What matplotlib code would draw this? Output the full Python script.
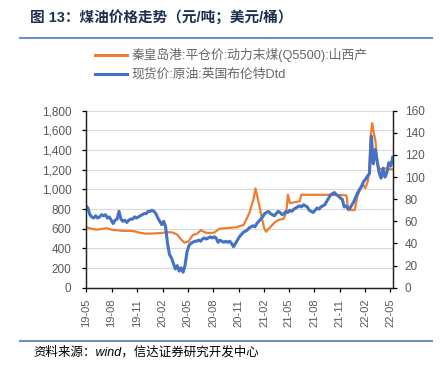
import matplotlib
matplotlib.use('Agg')
import matplotlib.pyplot as plt
import matplotlib.dates as mdates
from matplotlib.lines import Line2D
import pandas as pd

plt.rcParams['font.family'] = ['Liberation Sans', 'Noto Sans CJK SC']

title = '图 13：煤油价格走势（元/吨；美元/桶）'
source = '资料来源：wind，信达证券研究开发中心'
coal_label = '秦皇岛港:平仓价:动力末煤(Q5500):山西产'
brent_label = '现货价:原油:英国布伦特Dtd'

# coal price, yuan/ton (left axis)
coal_dates = ['2019-05-01', '2019-05-20', '2019-06-10', '2019-07-01', '2019-07-15',
              '2019-08-01', '2019-08-20', '2019-09-10', '2019-10-01', '2019-10-20',
              '2019-11-10', '2019-12-01', '2019-12-20', '2020-01-10', '2020-02-01',
              '2020-02-20', '2020-03-10', '2020-03-25', '2020-04-08', '2020-04-20',
              '2020-05-05', '2020-05-20', '2020-06-05', '2020-06-18', '2020-07-05',
              '2020-07-20', '2020-08-05', '2020-08-25', '2020-09-15', '2020-10-05',
              '2020-10-25', '2020-11-20', '2020-12-10', '2020-12-25', '2021-01-01',
              '2021-01-10', '2021-01-25', '2021-02-01', '2021-02-08', '2021-02-25',
              '2021-03-10', '2021-03-25', '2021-04-12', '2021-04-22', '2021-04-28',
              '2021-05-05', '2021-05-25', '2021-06-10', '2021-06-15', '2021-09-01',
              '2021-11-25', '2021-12-02', '2021-12-25', '2022-01-03', '2022-01-12',
              '2022-01-25', '2022-02-01', '2022-02-10', '2022-02-15', '2022-02-20',
              '2022-02-26', '2022-03-03', '2022-03-10', '2022-03-15', '2022-03-20',
              '2022-04-01', '2022-04-15', '2022-05-01', '2022-05-11']
coal_price = [615, 600, 590, 600, 605,
              590, 585, 578, 578, 575,
              560, 550, 550, 553, 558,
              565, 560, 540, 490, 458,
              470, 535, 550, 585, 560,
              555, 560, 600, 605, 610,
              615, 640, 760, 900, 1010,
              900, 700, 610, 570, 620,
              660, 690, 700, 760, 945,
              860, 870, 880, 945, 945,
              940, 790, 790, 925, 994,
              1045, 1013, 1080, 1166, 1535,
              1674, 1587, 1485, 1332, 1214,
              1205, 1215, 1205, 1204]

# brent dated, usd/barrel (right axis), weekly from 2019-05-01
brent_start = '2019-05-01'
brent_price = [74, 72, 66, 64, 63, 65, 63, 64, 66, 65, 66, 63, 64, 61,
               58, 61, 62, 69, 62, 60, 61, 59, 61, 62, 62, 64, 63,
               64, 65, 66, 67, 67, 69, 69, 70, 69, 67, 63, 60, 57,
               60, 55, 40, 30, 27, 22, 17, 20, 15, 18, 14, 20, 32,
               38, 40, 41, 42, 42, 43, 42, 44, 45, 44, 45, 46, 45,
               46, 45, 41, 43, 42, 41, 42, 41, 42, 40, 37, 40, 43,
               46, 48, 50, 51, 52, 54, 55, 56, 55, 58, 60, 62, 64,
               67, 68, 69, 67, 66, 65, 67, 69, 68, 66, 67, 69, 68,
               70, 69, 71, 72, 73, 74, 73, 75, 74, 73, 70, 69, 68,
               70, 72, 71, 73, 74, 75, 78, 81, 84, 85, 86, 84, 83,
               81, 80, 73, 74, 71, 72, 75, 78, 82, 86, 89, 92, 96,
               98, 101, 103, 137, 112, 125, 114, 104, 99, 108, 100, 104, 113,
               110, 118]
brent_dates = pd.date_range(brent_start, periods=len(brent_price), freq='7D')

orange = '#ED7D31'
blue = '#4472C4'
gray = '#595959'

fig = plt.figure(figsize=(4.44, 3.71), dpi=100)
W, H = 444, 371
ax = fig.add_axes([86 / W, 1 - 287.7 / H, (393 - 86) / W, 177 / H])
ax2 = ax.twinx()

ax.plot(pd.to_datetime(coal_dates), coal_price, color=orange, lw=1.6, solid_joinstyle='round')
ax2.plot(brent_dates, brent_price, color=blue, lw=2.2, solid_joinstyle='round')

ax.set_ylim(0, 1800)
ax.set_yticks(range(0, 1801, 200))
ax.set_yticklabels([f'{v:,}' for v in range(0, 1801, 200)])
ax2.set_ylim(0, 160)
ax2.set_yticks(range(0, 161, 20))

ax.set_xlim(pd.Timestamp('2019-05-01'), pd.Timestamp('2022-05-12'))
xt = pd.date_range('2019-05-01', '2022-05-01', freq='3MS')
ax.set_xticks(xt)
ax.set_xticklabels([d.strftime('%y-%m') for d in xt], rotation=90)

ax.grid(axis='y', color='#d9d9d9', lw=0.8)
ax.set_axisbelow(True)
for a in (ax, ax2):
    a.spines['top'].set_visible(False)
    for s in ('left', 'right', 'bottom'):
        a.spines[s].set_color('#222222')
        a.spines[s].set_linewidth(0.9)
ax.tick_params(axis='y', length=3, width=0.9, labelsize=8.5, labelcolor=gray, pad=7.5)
ax.tick_params(axis='x', length=3, width=0.9, labelsize=8, labelcolor=gray, pad=5)
ax2.tick_params(axis='y', length=3, width=0.9, labelsize=8.5, labelcolor=gray, pad=5.5)

handles = [Line2D([], [], color=orange, lw=2.2), Line2D([], [], color=blue, lw=2.2)]
fig.legend(handles, [coal_label, brent_label], loc='upper left',
           bbox_to_anchor=(95 / W, 1 - 48 / H), frameon=False, fontsize=9.2,
           handlelength=2.5, handletextpad=0.35, labelspacing=0.5,
           labelcolor='#666666', borderpad=0, borderaxespad=0)

fig.text(30 / W, 1 - 18 / H, title, fontsize=10.5, fontweight='bold', color='#1f2f4f',
         va='center', ha='left')
fig.add_artist(Line2D([20 / W, 432 / W], [1 - 37.5 / H, 1 - 37.5 / H], color='#6f8fbf', lw=1.5))
fig.add_artist(Line2D([20 / W, 432 / W], [1 - 341 / H, 1 - 341 / H], color='#6f8fbf', lw=1.5))
fig.text(33 / W, 1 - 352 / H, source, fontsize=9, style='italic', color='black',
         va='center', ha='left')

fig.savefig('out.png', dpi=100)
